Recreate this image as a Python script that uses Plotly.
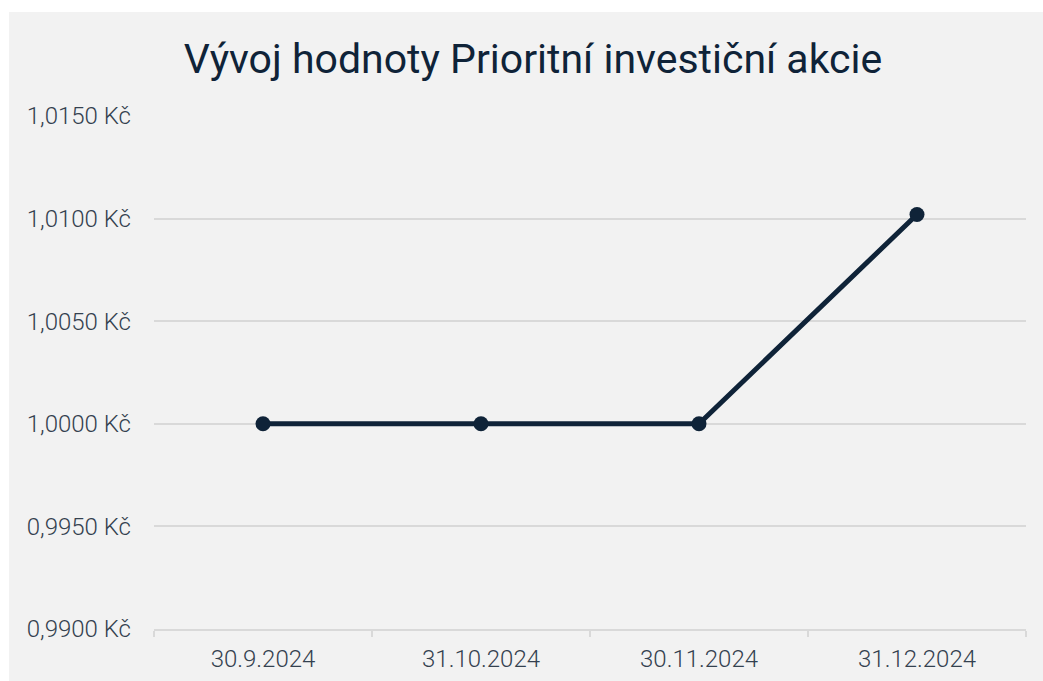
import plotly.graph_objects as go

dates = ["30.9.2024", "31.10.2024", "30.11.2024", "31.12.2024"]
values = [1.0000, 1.0000, 1.0000, 1.0102]
title_text = "Vývoj hodnoty Prioritní investiční akcie"

navy = "#0f2338"
grid = "#d9d9d9"
bg = "#f2f2f2"
label_col = "#34414f"

W, H = 1034, 669

fig = go.Figure()
fig.add_trace(go.Scatter(
    x=dates, y=values, mode="lines+markers",
    line=dict(color=navy, width=5),
    marker=dict(color=navy, size=15),
    hoverinfo="skip",
))

fig.update_layout(
    width=W, height=H,
    paper_bgcolor=bg, plot_bgcolor=bg,
    margin=dict(l=145, r=17, t=104, b=52),
    separators=", ",
    showlegend=False,
    font=dict(family="Roboto", color=label_col),
    title=dict(
        text=title_text,
        x=524 / W, xanchor="center", xref="container",
        y=1 - 47 / H, yanchor="middle", yref="container",
        font=dict(family="Roboto", size=41, color=navy),
    ),
    xaxis=dict(
        type="category",
        range=[-0.5, 3.5],
        tickson="boundaries",
        ticks="outside", ticklen=6, tickwidth=2, tickcolor=grid,
        showline=True, linecolor=grid, linewidth=2,
        showgrid=False, zeroline=False,
        automargin=False,
        tickfont=dict(family="Roboto", size=24, color=label_col, weight=300),
        ticklabelstandoff=7,
    ),
    yaxis=dict(
        range=[0.99, 1.015],
        dtick=0.005, tick0=0.99,
        tickformat=".4f", ticksuffix=" Kč",
        showgrid=True, gridcolor=grid, gridwidth=2,
        zeroline=False, showline=False, ticks="",
        automargin=False,
        tickfont=dict(family="Roboto", size=24, color=label_col, weight=300),
        ticklabelstandoff=22,
    ),
)

fig.write_html(
    "out.html",
    post_script="document.body.style.margin='12px 0 0 9px';document.body.style.overflow='hidden';",
)
